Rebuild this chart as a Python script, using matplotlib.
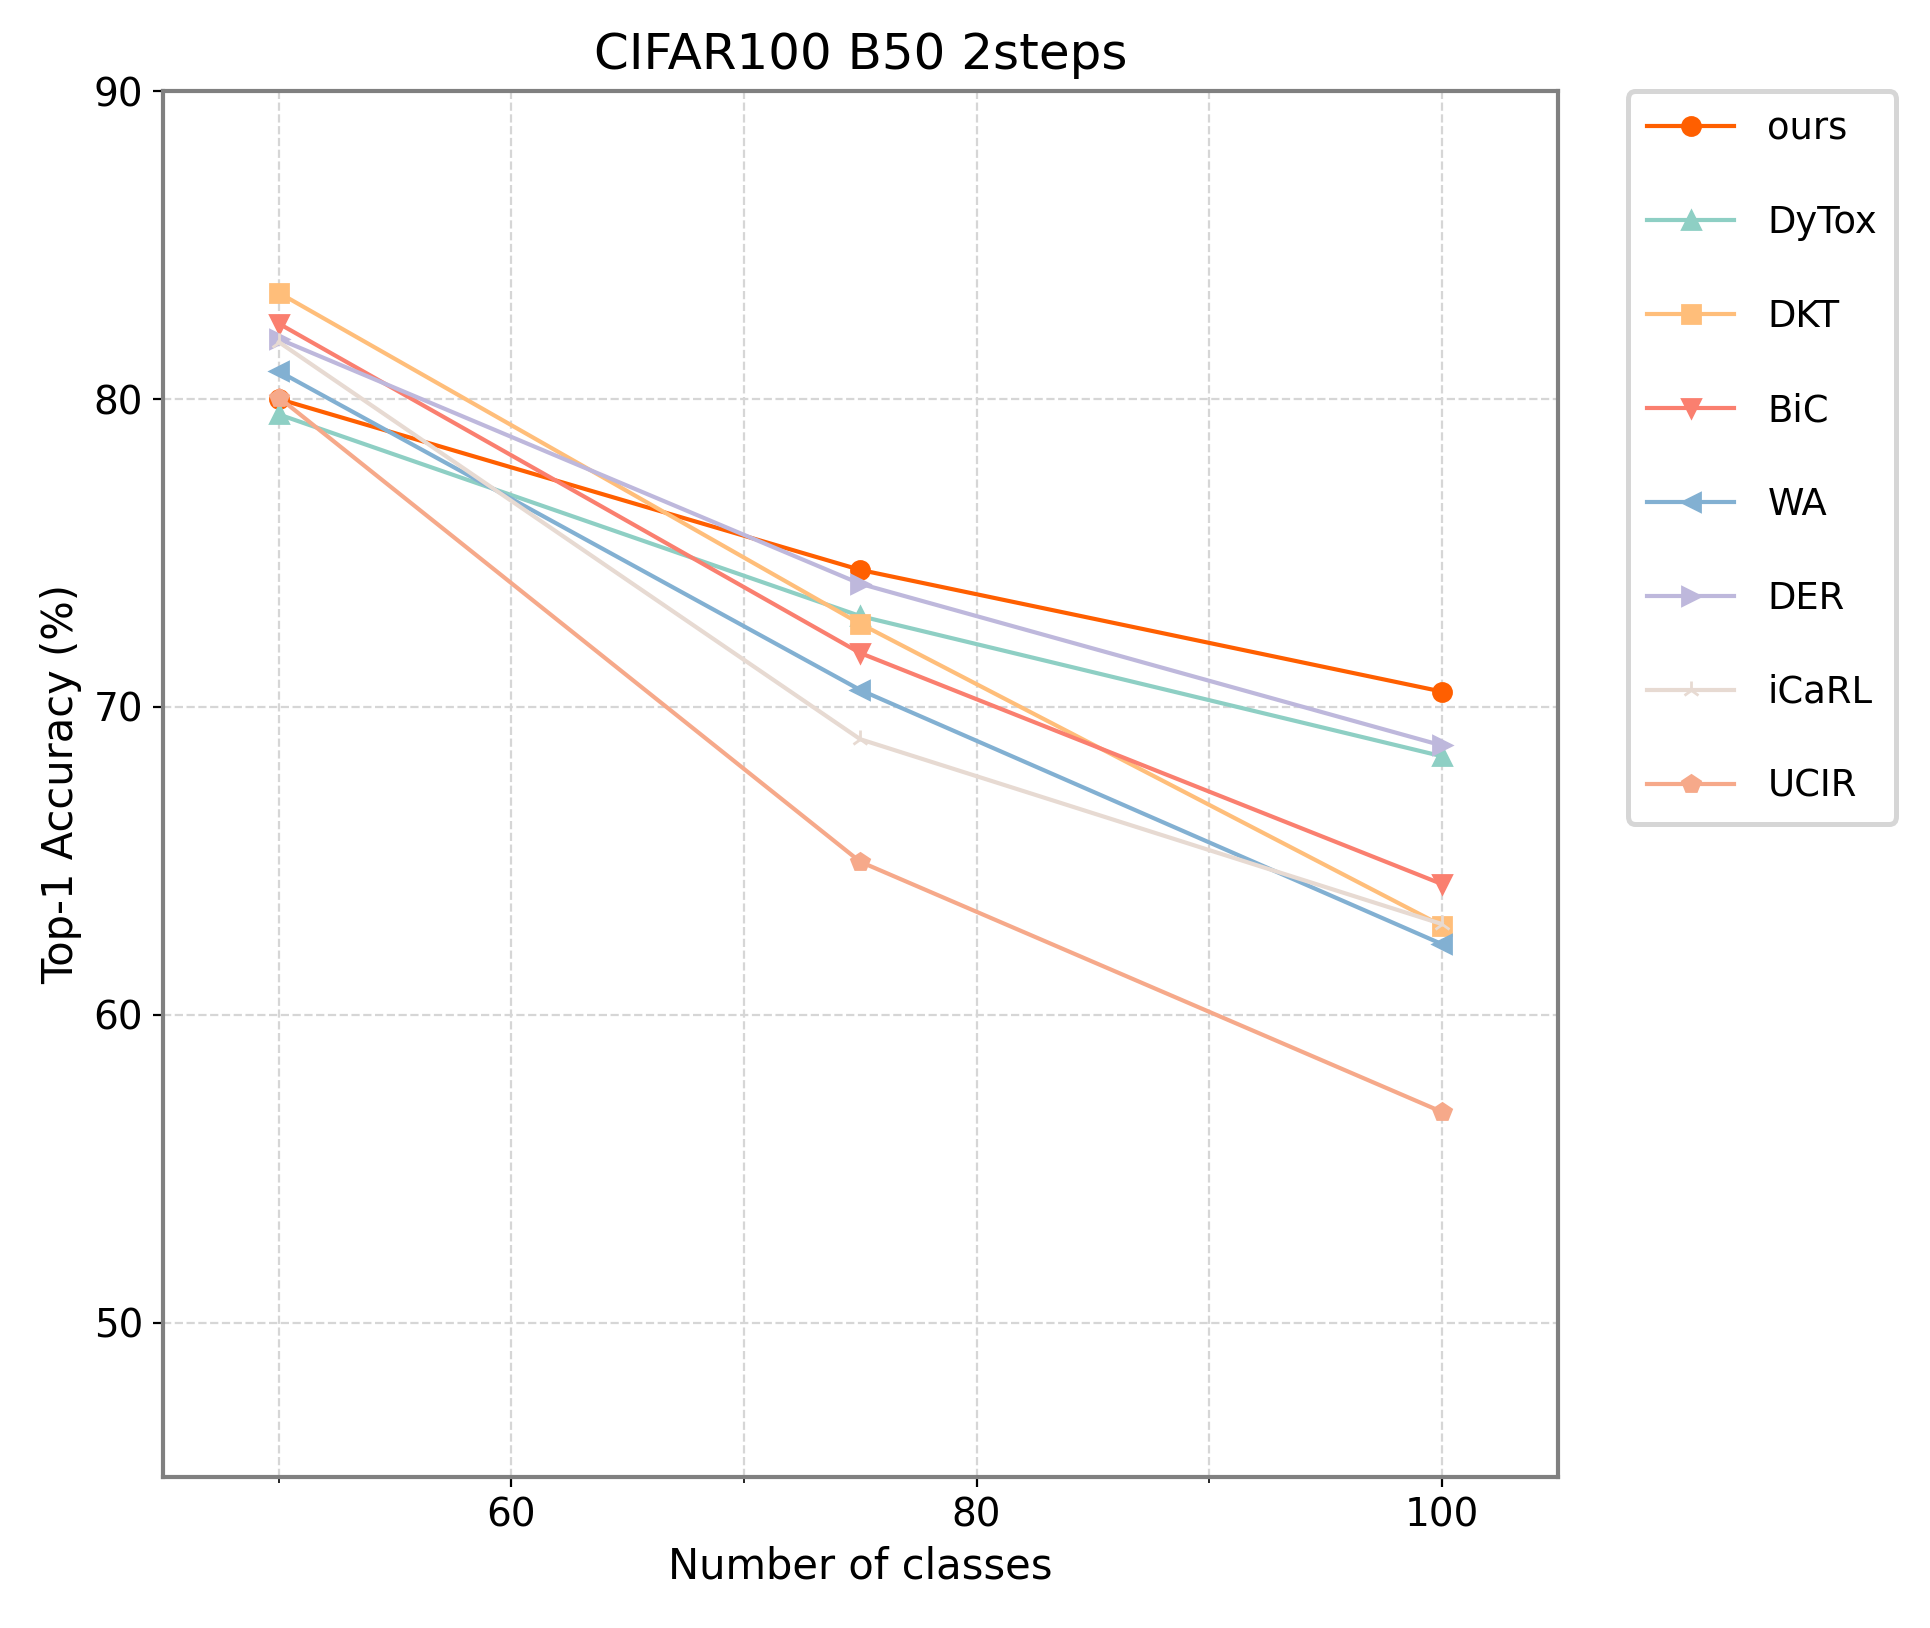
import matplotlib
matplotlib.use("Agg")
import matplotlib.pyplot as plt
from matplotlib.ticker import MultipleLocator

classes = [50, 75, 100]
methods = ["ours", "DyTox", "DKT", "BiC", "WA", "DER", "iCaRL", "UCIR"]
ours = [80.0, 74.45, 70.5]
dytox = [79.5, 72.95, 68.4]
dkt = [83.45, 72.7, 62.9]
bic = [82.45, 71.75, 64.25]
wa = [80.9, 70.55, 62.3]
der = [81.95, 74.0, 68.75]
icarl = [81.85, 68.95, 62.95]
ucir = [80.05, 64.97, 56.85]
series = [ours, dytox, dkt, bic, wa, der, icarl, ucir]
colors = ["#ff5f00", "#8ecfc4", "#ffbe7a", "#fa7f6f", "#82b0d2", "#beb8dc", "#e7dad2", "#f6a98a"]
markers = ["o", "^", "s", "v", "<", ">", "2", "p"]

fig = plt.figure(figsize=(9.655, 8.14), dpi=200)
ax = fig.add_axes([0.0842, 0.093, 0.7226, 0.851])

for name, vals, c, m in zip(methods, series, colors, markers):
    ax.plot(classes, vals, color=c, marker=m, label=name, linewidth=1.5,
            markersize=6.5, markeredgewidth=1.0)

ax.set_xlim(45, 105)
ax.set_ylim(45, 90)
ax.xaxis.set_major_locator(MultipleLocator(20))
ax.xaxis.set_minor_locator(MultipleLocator(10))
ax.yaxis.set_major_locator(MultipleLocator(10))
ax.grid(True, which="both", linestyle="--", color="#d6d6d6", linewidth=0.8)
ax.set_axisbelow(True)
ax.tick_params(axis="both", which="major", labelsize=14)
for s in ax.spines.values():
    s.set_color("#808080")
    s.set_linewidth(1.5)

ax.set_title("CIFAR100 B50 2steps", fontsize=18, pad=8)
ax.set_xlabel("Number of classes", fontsize=15)
ax.set_ylabel("Top-1 Accuracy (%)", fontsize=15)

leg = ax.legend(loc="upper left", bbox_to_anchor=(1.05, 1.0), borderaxespad=0,
                fontsize=13.3, labelspacing=1.54, handlelength=2.36,
                handletextpad=0.9, borderpad=0.52, frameon=True, fancybox=True)
leg.get_frame().set_edgecolor("#d6d6d6")
leg.get_frame().set_linewidth(1.8)
leg.get_frame().set_alpha(1.0)

fig.savefig("out.png", dpi=200)
